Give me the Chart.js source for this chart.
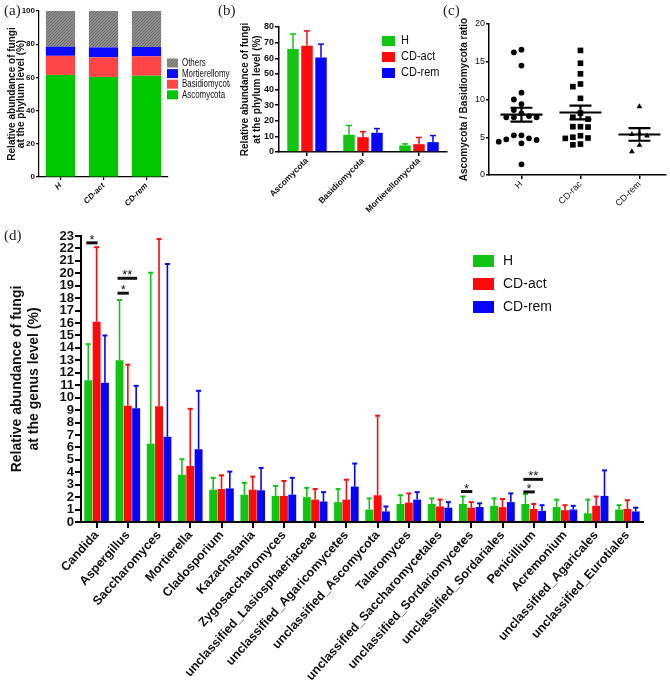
<!DOCTYPE html>
<html>
<head>
<meta charset="utf-8">
<script src="https://cdn.jsdelivr.net/npm/chart.js@4.4.1/dist/chart.umd.min.js"></script>
<style>
  body { margin: 0; background: #fff; width: 670px; height: 688px; position: relative; overflow: hidden; }
  canvas { position: absolute; }
  .tag { position: absolute; font-family: "Liberation Serif", "Times New Roman", serif; font-size: 15px; line-height: 1; color: #222; }
</style>
</head>
<body>
<canvas id="chartA" width="230" height="225" style="left:0;top:0"></canvas>
<canvas id="chartB" width="220" height="225" style="left:230px;top:0"></canvas>
<canvas id="chartC" width="220" height="225" style="left:450px;top:0"></canvas>
<canvas id="chartD" width="670" height="478" style="left:0;top:210px"></canvas>
<div class="tag" style="left:4px;top:3px">(a)</div>
<div class="tag" style="left:218px;top:3px">(b)</div>
<div class="tag" style="left:443px;top:3px">(c)</div>
<div class="tag" style="left:4px;top:228px">(d)</div>
<script>
// groups
const groups = ['H', 'CD-act', 'CD-rem'];
const green = '#12c412';
const red = '#ff0a0a';
const blue = '#0505ff';

// (a) mean composition at phylum level, stacked (%)
const ascoStack = [61.5, 60.3, 61.0];
const basidioStack = [11.5, 11.8, 11.7];
const mortStack = [5.5, 6.0, 5.6];
const othersStack = [21.5, 21.9, 21.7];

// (b) phylum level, mean and upper error
const phyla = ['Ascomycota', 'Basidiomycota', 'Mortierellomycota'];
const phylumH = [66.0, 11.0, 4.2];
const phylumHErr = [9.5, 6.0, 1.0];
const phylumAct = [68.0, 9.5, 5.0];
const phylumActErr = [9.5, 3.5, 4.3];
const phylumRem = [60.5, 12.3, 6.3];
const phylumRemErr = [8.5, 2.7, 4.2];

// (c) Ascomycota / Basidiomycota ratio per subject
const ratioGroups = ['H', 'CD-rac', 'CD-rem'];
const ratioH = [16.6, 16.25, 14.5, 10.9, 10.0, 9.4, 8.6, 8.17, 7.8, 7.64, 7.64, 7.64, 5.26, 5.26, 4.86, 4.73, 4.64, 4.41, 4.2, 1.42];
const ratioAct = [16.5, 14.8, 13.4, 12.05, 11.7, 10.15, 8.2, 7.65, 7.4, 6.4, 6.4, 6.35, 5.2, 5.0, 4.9, 4.85, 4.1, 4.0];
const ratioRem = [9.05, 5.5, 5.38, 5.2, 3.97, 3.09];

// (d) genus level
const genera = ['Candida', 'Aspergillus', 'Saccharomyces', 'Mortierella', 'Cladosporium', 'Kazachstania',
  'Zygosaccharomyces', 'unclassified_Lasiosphaeriaceae', 'unclassified_Agaricomycetes', 'unclassified_Ascomycota',
  'Talaromyces', 'unclassified_Saccharomycetales', 'unclassified_Sordariomycetes', 'unclassified_Sordariales',
  'Penicillium', 'Acremonium', 'unclassified_Agaricales', 'unclassified_Eurotiales'];
const genusH =      [11.4, 13.0, 6.3, 3.8, 2.6, 2.2, 2.1, 2.0, 1.6, 1.0, 1.45, 1.45, 1.45, 1.3, 1.45, 1.2, 0.7, 1.0];
const genusHErr =   [2.9, 4.85, 13.75, 1.25, 0.95, 0.95, 0.8, 0.75, 1.05, 0.9, 0.7, 0.45, 0.6, 0.6, 0.8, 0.6, 1.1, 0.35];
const genusAct =    [16.1, 9.35, 9.3, 4.5, 2.65, 2.6, 2.1, 1.8, 1.8, 2.15, 1.55, 1.25, 1.15, 1.2, 1.05, 0.95, 1.3, 1.05];
const genusActErr = [6.0, 3.3, 13.45, 4.6, 1.1, 1.05, 1.2, 0.85, 1.6, 6.4, 0.75, 0.55, 0.45, 0.65, 0.4, 0.4, 0.75, 0.7];
const genusRem =    [11.2, 9.15, 6.85, 5.85, 2.7, 2.55, 2.2, 1.65, 2.85, 0.85, 1.8, 1.15, 1.2, 1.6, 0.9, 1.0, 2.1, 0.85];
const genusRemErr = [3.8, 1.8, 13.9, 4.7, 1.35, 1.8, 1.35, 0.75, 1.85, 0.4, 0.6, 0.45, 0.3, 0.7, 0.45, 0.3, 2.05, 0.3];
const genusTicks = Array.from({length: 24}, (_, i) => i);
const genusSig = [
  {genus: 'Candida', from: 0, to: 1, level: 22.45, text: '*'},
  {genus: 'Aspergillus', from: 0, to: 1, level: 18.4, text: '*'},
  {genus: 'Aspergillus', from: 0, to: 2, level: 19.6, text: '**'},
  {genus: 'unclassified_Sordariomycetes', from: 0, to: 1, level: 2.45, text: '*'},
  {genus: 'Penicillium', from: 0, to: 1, level: 2.42, text: '*'},
  {genus: 'Penicillium', from: 0, to: 2, level: 3.43, text: '**'}
];

Chart.defaults.font.family = '"Liberation Sans", Arial, sans-serif';
Chart.defaults.color = '#111';

// grey speckled fill for "Others"
function greyTexture() {
  const c = document.createElement('canvas');
  c.width = c.height = 3;
  const g = c.getContext('2d');
  g.fillStyle = '#8c8c8c';
  g.fillRect(0, 0, 3, 3);
  g.fillStyle = '#707070';
  g.fillRect(0, 0, 1, 1); g.fillRect(2, 1, 1, 1); g.fillRect(1, 2, 1, 1);
  return g.createPattern(c, 'repeat');
}

// legend drawn as coloured boxes + labels
const boxLegend = {
  id: 'boxLegend',
  afterDraw(chart, args, o) {
    const ctx = chart.ctx;
    let items = chart.data.datasets.map(d => ({label: d.label, color: d.backgroundColor}));
    if (o.reverse) items = items.reverse();
    ctx.save();
    ctx.font = o.font;
    ctx.textBaseline = 'middle';
    items.forEach((it, i) => {
      const y = o.y + i * o.gap;
      ctx.fillStyle = it.color;
      ctx.fillRect(o.x, y - o.h / 2, o.w, o.h);
      ctx.fillStyle = '#111';
      ctx.save();
      ctx.translate(o.textX, y);
      ctx.scale(o.squeeze || 1, 1);
      ctx.fillText(it.label, 0, 0);
      ctx.restore();
    });
    ctx.restore();
  }
};

// upward error bars with caps
const errorBars = {
  id: 'errorBars',
  afterDatasetsDraw(chart, args, o) {
    const ctx = chart.ctx, ys = chart.scales.y;
    ctx.save();
    chart.data.datasets.forEach((ds, i) => {
      chart.getDatasetMeta(i).data.forEach((bar, j) => {
        const top = ys.getPixelForValue(ds.data[j] + ds.errors[j]);
        ctx.strokeStyle = ds.backgroundColor;
        ctx.lineWidth = o.width;
        ctx.beginPath();
        ctx.moveTo(bar.x, bar.y);
        ctx.lineTo(bar.x, top);
        ctx.stroke();
        ctx.lineWidth = o.capWidth;
        ctx.beginPath();
        ctx.moveTo(bar.x - o.cap, top);
        ctx.lineTo(bar.x + o.cap, top);
        ctx.stroke();
      });
    });
    ctx.restore();
  }
};

// significance lines with stars
const sigMarks = {
  id: 'sigMarks',
  afterDatasetsDraw(chart, args, o) {
    const ctx = chart.ctx, ys = chart.scales.y;
    ctx.save();
    ctx.fillStyle = '#111';
    ctx.strokeStyle = '#111';
    ctx.font = '13px "Liberation Sans", Arial, sans-serif';
    ctx.textAlign = 'center';
    ctx.textBaseline = 'alphabetic';
    o.marks.forEach(m => {
      const j = chart.data.labels.indexOf(m.genus);
      const x1 = chart.getDatasetMeta(m.from).data[j].x - 2;
      const x2 = chart.getDatasetMeta(m.to).data[j].x + 1;
      const y = ys.getPixelForValue(m.level);
      ctx.lineWidth = 3;
      ctx.beginPath();
      ctx.moveTo(x1, y);
      ctx.lineTo(x2, y);
      ctx.stroke();
      ctx.fillText(m.text, (x1 + x2) / 2, y + 1);
    });
    ctx.restore();
  }
};

// mean +/- SEM lines for the scatter panel
const meanSem = {
  id: 'meanSem',
  afterDatasetsDraw(chart, args, o) {
    const ctx = chart.ctx, xs = chart.scales.x, ys = chart.scales.y;
    ctx.save();
    ctx.strokeStyle = '#000';
    chart.data.datasets.forEach((ds, i) => {
      const vals = ds.data.map(p => p.y);
      const n = vals.length;
      const mean = vals.reduce((a, b) => a + b, 0) / n;
      const sd = Math.sqrt(vals.reduce((a, b) => a + (b - mean) ** 2, 0) / (n - 1));
      const sem = sd / Math.sqrt(n);
      const cx = xs.getPixelForValue(i);
      const ym = ys.getPixelForValue(mean), yt = ys.getPixelForValue(mean + sem), yb = ys.getPixelForValue(mean - sem);
      ctx.lineWidth = 2.2;
      ctx.beginPath();
      ctx.moveTo(cx - o.meanHalf, ym); ctx.lineTo(cx + o.meanHalf, ym);
      ctx.moveTo(cx - o.semHalf, yt); ctx.lineTo(cx + o.semHalf, yt);
      ctx.moveTo(cx - o.semHalf, yb); ctx.lineTo(cx + o.semHalf, yb);
      ctx.moveTo(cx, yt); ctx.lineTo(cx, yb);
      ctx.stroke();
    });
    ctx.restore();
  }
};

// beeswarm spread of the dots around a group position
function swarm(values, gx) {
  const stepPx = 7.7, xPx = 60, yPx = 7.55, diam = 7;
  const placed = [];
  return values.slice().sort((a, b) => b - a).map(v => {
    for (let k = 0; k < 30; k++) {
      const o = k === 0 ? 0 : (k % 2 ? -Math.ceil(k / 2) : k / 2);
      const free = placed.every(p => Math.hypot((p.o - o) * stepPx, (p.v - v) * yPx) >= diam);
      if (free) { placed.push({o, v}); return {x: gx + o * stepPx / xPx, y: v}; }
    }
  });
}

function axisGrid(w, len, offset) {
  return {display: true, drawOnChartArea: false, color: '#000', lineWidth: w, tickLength: len, offset: offset};
}

// ---------- (a)
new Chart(document.getElementById('chartA'), {
  type: 'bar',
  data: {
    labels: groups,
    datasets: [
      {label: 'Ascomycota', data: ascoStack, backgroundColor: '#00c800'},
      {label: 'Basidiomycota', data: basidioStack, backgroundColor: '#ff4545'},
      {label: 'Mortierellomycota', data: mortStack, backgroundColor: '#0a0aff'},
      {label: 'Others', data: othersStack, backgroundColor: greyTexture()}
    ]
  },
  options: {
    responsive: false,
    animation: false,
    layout: {padding: {top: 11, right: 62, left: 0, bottom: 0}},
    datasets: {bar: {categoryPercentage: 0.68, barPercentage: 1}},
    scales: {
      x: {
        stacked: true,
        grid: axisGrid(1.2, 3, false),
        border: {color: '#000', width: 1.2},
        ticks: {maxRotation: 45, minRotation: 45, padding: 1, color: '#111', font: {size: 8, style: 'italic', weight: 'bold'}},
        afterFit(s) { s.height = 48; }
      },
      y: {
        stacked: true, min: 0, max: 100,
        grid: axisGrid(1.2, 3),
        border: {color: '#000', width: 1.2},
        ticks: {stepSize: 20, padding: 1, color: '#111', font: {size: 8, weight: 'bold'}},
        title: {display: true, text: ['Relative abundance of fungi', 'at the phylum level (%)'], color: '#111',
          font: {size: 10, weight: 'bold', lineHeight: 0.9}, padding: {top: 8}},
        afterFit(s) { s.width = 39; }
      }
    },
    plugins: {
      legend: {display: false},
      tooltip: {enabled: false},
      boxLegend: {x: 167, y: 63, gap: 10.6, w: 11, h: 9, textX: 182, reverse: true, squeeze: 0.72,
        font: '11px "Liberation Sans", Arial, sans-serif'}
    }
  },
  plugins: [boxLegend]
});

// ---------- (b)
new Chart(document.getElementById('chartB'), {
  type: 'bar',
  data: {
    labels: phyla,
    datasets: [
      {label: 'H', data: phylumH, errors: phylumHErr, backgroundColor: green},
      {label: 'CD-act', data: phylumAct, errors: phylumActErr, backgroundColor: red},
      {label: 'CD-rem', data: phylumRem, errors: phylumRemErr, backgroundColor: blue}
    ]
  },
  options: {
    responsive: false,
    animation: false,
    layout: {padding: {top: 27, right: 3, left: 0, bottom: 0}},
    datasets: {bar: {categoryPercentage: 0.75, barPercentage: 0.82}},
    scales: {
      x: {
        grid: axisGrid(1.5, 4, false),
        border: {color: '#000', width: 1.5},
        ticks: {maxRotation: 45, minRotation: 45, padding: 0, color: '#111', font: {size: 8.5, weight: 'bold'}},
        afterFit(s) { s.height = 73; }
      },
      y: {
        min: 0, max: 80,
        grid: axisGrid(1.5, 4),
        border: {color: '#000', width: 1.5},
        ticks: {stepSize: 10, padding: 1, color: '#111', font: {size: 9, weight: 'bold'}},
        title: {display: true, text: ['Relative abundance of fungi', 'at the phylum level (%)'], color: '#111',
          font: {size: 10, weight: 'bold', lineHeight: 1.2}, padding: {top: 9}},
        afterFit(s) { s.width = 49; }
      }
    },
    plugins: {
      legend: {display: false},
      tooltip: {enabled: false},
      errorBars: {width: 1.5, capWidth: 1.5, cap: 3},
      boxLegend: {x: 152, y: 41, gap: 16, w: 13, h: 10, textX: 171, squeeze: 0.88,
        font: '12.5px "Liberation Sans", Arial, sans-serif'}
    }
  },
  plugins: [errorBars, boxLegend]
});

// ---------- (c)
new Chart(document.getElementById('chartC'), {
  type: 'scatter',
  data: {
    datasets: [
      {label: 'H', data: swarm(ratioH, 0), pointStyle: 'circle', pointRadius: 2.9},
      {label: 'CD-rac', data: swarm(ratioAct, 1), pointStyle: 'rect', pointRadius: 4},
      {label: 'CD-rem', data: swarm(ratioRem, 2), pointStyle: 'triangle', pointRadius: 3.3}
    ].map(d => Object.assign(d, {backgroundColor: '#000', borderColor: '#000', borderWidth: 0}))
  },
  options: {
    responsive: false,
    animation: false,
    layout: {padding: {top: 24, right: 1, left: 0, bottom: 0}},
    scales: {
      x: {
        type: 'linear', min: -0.55, max: 2.45,
        afterBuildTicks(s) { s.ticks = ratioGroups.map((g, i) => ({value: i})); },
        grid: axisGrid(1.5, 4),
        border: {color: '#000', width: 1.5},
        ticks: {autoSkip: false, maxRotation: 45, minRotation: 45, padding: 0, color: '#111', font: {size: 9},
          callback: v => ratioGroups[v]},
        afterFit(s) { s.height = 50; }
      },
      y: {
        min: 0, max: 20,
        grid: axisGrid(1.5, 3),
        border: {color: '#000', width: 1.5},
        ticks: {stepSize: 5, padding: 1, color: '#111', font: {size: 9}},
        title: {display: true, text: 'Ascomycota / Basidiomycota ratio', color: '#111',
          font: {size: 10, weight: 'bold'}, padding: {top: 8}},
        afterFit(s) { s.width = 39; }
      }
    },
    plugins: {
      legend: {display: false},
      tooltip: {enabled: false},
      meanSem: {meanHalf: 21, semHalf: 11}
    }
  },
  plugins: [meanSem]
});

// ---------- (d)
new Chart(document.getElementById('chartD'), {
  type: 'bar',
  data: {
    labels: genera,
    datasets: [
      {label: 'H', data: genusH, errors: genusHErr, backgroundColor: green},
      {label: 'CD-act', data: genusAct, errors: genusActErr, backgroundColor: red},
      {label: 'CD-rem', data: genusRem, errors: genusRemErr, backgroundColor: blue}
    ]
  },
  options: {
    responsive: false,
    animation: false,
    layout: {padding: {top: 26, right: 27, left: 0, bottom: 0}},
    datasets: {bar: {categoryPercentage: 0.8, barPercentage: 0.95}},
    scales: {
      x: {
        grid: axisGrid(2, 6, false),
        border: {color: '#000', width: 2},
        ticks: {autoSkip: false, maxRotation: 48, minRotation: 48, padding: 0, color: '#111', font: {size: 12.5, weight: 'bold'}},
        afterFit(s) { s.height = 166; }
      },
      y: {
        min: 0, max: 23,
        afterBuildTicks(s) { s.ticks = genusTicks.map(v => ({value: v})); },
        grid: axisGrid(2, 6),
        border: {color: '#000', width: 2},
        ticks: {autoSkip: false, padding: 1, color: '#111', font: {size: 13, weight: 'bold', lineHeight: 0.9}},
        title: {display: true, text: ['Relative abundance of fungi', 'at the genus level (%)'], color: '#111',
          font: {size: 14, weight: 'bold', lineHeight: 1.2}, padding: {top: 8.6}},
        afterFit(s) { s.width = 81; }
      }
    },
    plugins: {
      legend: {display: false},
      tooltip: {enabled: false},
      errorBars: {width: 1.6, capWidth: 2, cap: 2.5},
      sigMarks: {marks: genusSig},
      boxLegend: {x: 473, y: 51, gap: 23, w: 21, h: 12, textX: 503, font: '14px "Liberation Sans", Arial, sans-serif'}
    }
  },
  plugins: [errorBars, sigMarks, boxLegend]
});
</script>
</body>
</html>
